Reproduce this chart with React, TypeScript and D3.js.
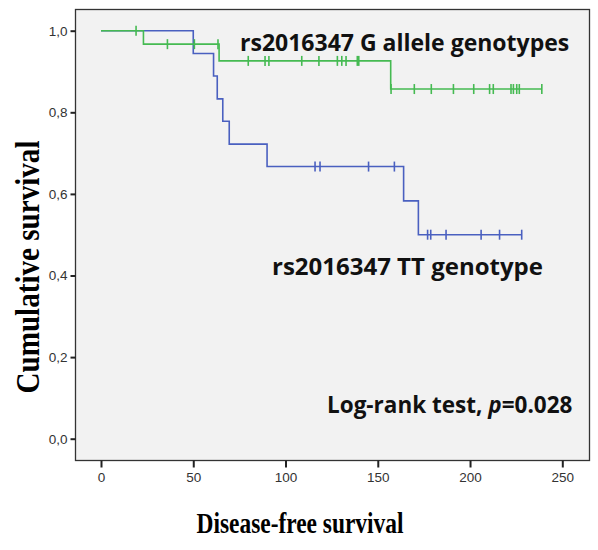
import React, { useRef, useEffect } from 'react';
import * as d3 from 'd3';

// survival steps (time of event, survival after event) and censored times per group
const ttEventTimes = [50, 61, 63, 66, 69.5, 90, 164, 172];
const ttSurvival = [0.944, 0.889, 0.833, 0.778, 0.722, 0.667, 0.583, 0.5];
const ttCensorTimes = [116, 118.7, 145, 159, 177, 178.7, 187, 206, 216, 228];

const gEventTimes = [23, 64, 157];
const gSurvival = [0.967, 0.926, 0.857];
const gCensorTimes = [
  19, 36, 50.6, 63.4, 79.8, 88.9, 91, 108.8, 118.1, 128.1, 130.5, 132.8, 138.9, 139.7,
  157.2, 169.8, 179, 191, 202, 210.6, 212.6, 222.2, 223.5, 225.3, 226.7, 238.9,
];

const xTicks = [0, 50, 100, 150, 200, 250];
const yTicks = [0, 0.2, 0.4, 0.6, 0.8, 1.0];

const groups = [
  { name: 'TT', events: ttEventTimes, surv: ttSurvival, censored: ttCensorTimes, color: '#4a60c0' },
  { name: 'G', events: gEventTimes, surv: gSurvival, censored: gCensorTimes, color: '#45ba52' },
];

const W = 598;
const H = 550;

function SurvivalChart() {
  const svgRef = useRef<SVGSVGElement | null>(null);

  useEffect(() => {
    document.body.style.margin = '0';
    const svg = d3.select(svgRef.current);
    svg.selectAll('*').remove();

    const x = d3.scaleLinear().domain([0, 250]).range([101, 562.3]);
    const y = d3.scaleLinear().domain([0, 1]).range([438.7, 30.7]);

    svg.append('rect').attr('width', W).attr('height', H).attr('fill', '#ffffff');

    // plot frame
    svg
      .append('rect')
      .attr('x', 75.5)
      .attr('y', 9.5)
      .attr('width', 514)
      .attr('height', 451)
      .attr('fill', '#f2f2f2')
      .attr('stroke', '#333')
      .attr('stroke-width', 1.3);

    const xAxis = d3
      .axisBottom(x)
      .tickValues(xTicks)
      .tickSize(7)
      .tickPadding(5)
      .tickFormat((d) => String(d));
    const gx = svg.append('g').attr('transform', 'translate(0,460.5)').call(xAxis);
    gx.select('.domain').remove();

    const yAxis = d3
      .axisLeft(y)
      .tickValues(yTicks)
      .tickSize(5)
      .tickPadding(3)
      .tickFormat((d) => (d as number).toFixed(1).replace('.', ','));
    const gy = svg.append('g').attr('transform', 'translate(75.5,0)').call(yAxis);
    gy.select('.domain').remove();

    [gx, gy].forEach((g) => {
      g.selectAll('line').attr('stroke', '#222').attr('stroke-width', 2);
      g.selectAll('text')
        .attr('font-family', 'Liberation Sans, Arial, sans-serif')
        .attr('font-size', 13.5)
        .attr('fill', '#333');
    });

    const line = d3
      .line<[number, number]>()
      .x((d) => x(d[0]))
      .y((d) => y(d[1]))
      .curve(d3.curveStepAfter);

    groups.forEach((grp) => {
      const pts: [number, number][] = [[0, 1]];
      grp.events.forEach((t, i) => pts.push([t, grp.surv[i]]));
      const end = Math.max(d3.max(grp.censored) ?? 0, d3.max(grp.events) ?? 0);
      pts.push([end, grp.surv[grp.surv.length - 1]]);

      const survAt = (t: number) => {
        let s = 1;
        grp.events.forEach((e, i) => {
          if (e <= t) s = grp.surv[i];
        });
        return s;
      };

      const g = svg.append('g');
      g.append('path')
        .attr('d', line(pts))
        .attr('fill', 'none')
        .attr('stroke', grp.color)
        .attr('stroke-width', 1.6);

      g.selectAll('line.censor')
        .data(grp.censored)
        .join('line')
        .attr('class', 'censor')
        .attr('x1', (d) => x(d))
        .attr('x2', (d) => x(d))
        .attr('y1', (d) => y(survAt(d)) - 5)
        .attr('y2', (d) => y(survAt(d)) + 5)
        .attr('stroke', grp.color)
        .attr('stroke-width', 1.6);
    });

    const annot = 'Open Sans, Lato, sans-serif';
    svg
      .append('text')
      .attr('x', 240)
      .attr('y', 51)
      .attr('font-family', annot)
      .attr('font-weight', 700)
      .attr('font-size', 23)
      .attr('fill', '#111')
      .text('rs2016347 G allele genotypes');

    svg
      .append('text')
      .attr('x', 272)
      .attr('y', 275)
      .attr('font-family', annot)
      .attr('font-weight', 700)
      .attr('font-size', 24)
      .attr('fill', '#111')
      .text('rs2016347 TT genotype');

    const lr = svg
      .append('text')
      .attr('x', 327)
      .attr('y', 413)
      .attr('font-family', annot)
      .attr('font-weight', 700)
      .attr('font-size', 22.5)
      .attr('fill', '#111');
    lr.append('tspan').text('Log-rank test, ');
    lr.append('tspan').attr('font-style', 'italic').text('p');
    lr.append('tspan').text('=0.028');

    // axis titles
    svg
      .append('text')
      .attr('transform', 'translate(39,267) rotate(-90)')
      .attr('text-anchor', 'middle')
      .attr('font-family', 'Liberation Serif, Times New Roman, serif')
      .attr('font-weight', 700)
      .attr('font-size', 34)
      .attr('textLength', 253)
      .attr('lengthAdjust', 'spacingAndGlyphs')
      .attr('fill', '#000')
      .text('Cumulative survival');

    svg
      .append('text')
      .attr('x', 300)
      .attr('y', 533)
      .attr('text-anchor', 'middle')
      .attr('font-family', 'Liberation Serif, Times New Roman, serif')
      .attr('font-weight', 700)
      .attr('font-size', 30)
      .attr('textLength', 207)
      .attr('lengthAdjust', 'spacingAndGlyphs')
      .attr('fill', '#000')
      .text('Disease-free survival');
  }, []);

  return (
    <svg
      ref={svgRef}
      width={W}
      height={H}
      style={{ display: 'block', position: 'absolute', left: 0, top: 0 }}
    ></svg>
  );
}

export default function App() {
  return <SurvivalChart />;
}
